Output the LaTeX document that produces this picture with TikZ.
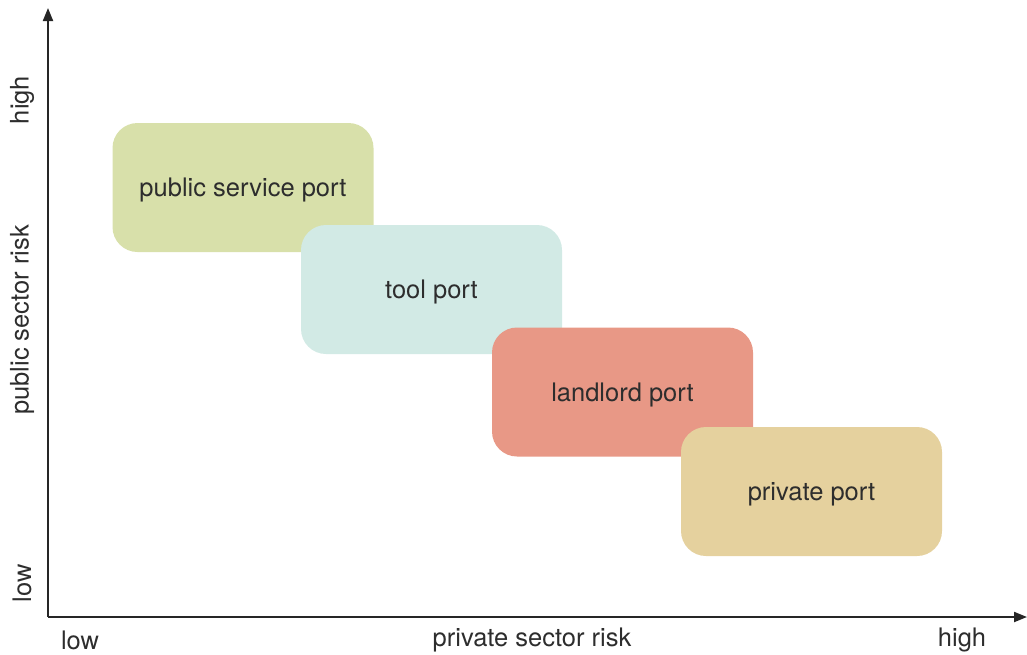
\documentclass[tikz,border=0pt]{standalone}
\usepackage{fontspec}
\setmainfont{TeX Gyre Heros}
\usetikzlibrary{arrows.meta}
\definecolor{cgreen}{RGB}{216,224,170}
\definecolor{cteal}{RGB}{210,234,229}
\definecolor{cred}{RGB}{232,152,134}
\definecolor{csand}{RGB}{229,209,158}
\definecolor{ctext}{RGB}{45,45,45}
\begin{document}
\begin{tikzpicture}[x=1pt,y=-1pt,
  portbox/.style={rounded corners=25pt, minimum width=261pt, minimum height=129pt, inner sep=0pt, text depth=0pt, text=ctext, font=\fontsize{25.5}{30}\selectfont},
  axislabel/.style={text=ctext, font=\fontsize{25.5}{30}\selectfont, inner sep=0pt},
  axisline/.style={line width=2pt, draw=black!85, -{Triangle[length=13pt,width=10pt]}}]
\useasboundingbox (0,0) rectangle (1027,654);
\coordinate (o) at (48,617);
\coordinate (ytip) at (48,8);
\coordinate (xtip) at (1027,617);
\draw[axisline] (o) -- (ytip);
\draw[axisline] (o) -- (xtip);
\node[portbox, fill=cgreen] (ps) at (243,187.5) {public service port};
\node[portbox, fill=cteal] (tp) at (431.5,289.5) {tool port};
\node[portbox, fill=cred] (lp) at (622.5,392) {landlord port};
\node[portbox, fill=csand] (pp) at (811.5,491.5) {private port};
\node[axislabel] (xlow) at (80,640) {low};
\node[axislabel] (xmid) at (532,640) {private sector risk};
\node[axislabel] (xhigh) at (962,640) {high};
\node[axislabel, rotate=90] (ylow) at (22,583) {low};
\node[axislabel, rotate=90] (ymid) at (22,320) {public sector risk};
\node[axislabel, rotate=90] (yhigh) at (22,100) {high};
\end{tikzpicture}
\end{document}
